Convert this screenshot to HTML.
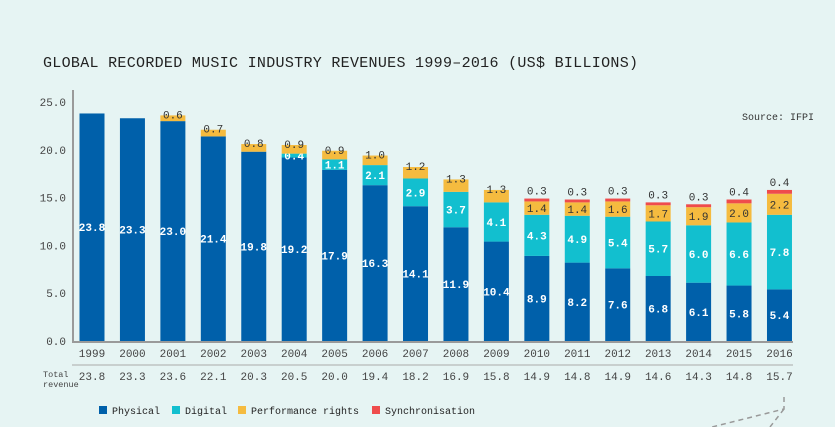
<!DOCTYPE html>
<html><head><meta charset="utf-8"><style>
body{margin:0;background:#e6f4f3;}
svg{display:block;font-family:"Liberation Mono",monospace;}
</style></head><body>
<svg width="835" height="427" viewBox="0 0 835 427" xmlns="http://www.w3.org/2000/svg">
<rect width="835" height="427" fill="#e6f4f3"/>
<text x="43" y="67" font-size="15" fill="#222" letter-spacing="0.3">GLOBAL RECORDED MUSIC INDUSTRY REVENUES 1999–2016 (US$ BILLIONS)</text>
<text x="814" y="120" font-size="10" fill="#333" text-anchor="end">Source: IFPI</text>
<g id="plot"></g>
<line x1="73" y1="90" x2="73" y2="342" stroke="#9a9a9a" stroke-width="2"/>
<line x1="72" y1="342" x2="793" y2="342" stroke="#9a9a9a" stroke-width="2"/>
<line x1="72" y1="365" x2="793" y2="365" stroke="#aaa" stroke-width="1"/>
<text x="43" y="377" font-size="8.5" fill="#444">Total</text>
<text x="43" y="387" font-size="8.5" fill="#444">revenue</text>
<g font-size="10" fill="#222">
<rect x="99" y="406" width="8" height="8" fill="#0060aa"/><text x="112" y="414">Physical</text>
<rect x="172" y="406" width="8" height="8" fill="#12bfcf"/><text x="185" y="414">Digital</text>
<rect x="238" y="406" width="8" height="8" fill="#f5bb3f"/><text x="251" y="414">Performance rights</text>
<rect x="372" y="406" width="8" height="8" fill="#ef4c4c"/><text x="385" y="414">Synchronisation</text>
</g>
<path d="M784 397 L784 409 L712 427 M784 409 L770 427" stroke="#999" stroke-width="1.5" stroke-dasharray="5,4" fill="none"/>
</svg>
<script>
const years=["1999","2000","2001","2002","2003","2004","2005","2006","2007","2008","2009","2010","2011","2012","2013","2014","2015","2016"];
const physical=[23.8,23.3,23.0,21.4,19.8,19.2,17.9,16.3,14.1,11.9,10.4,8.9,8.2,7.6,6.8,6.1,5.8,5.4];
const digital=[0,0,0,0,0,0.4,1.1,2.1,2.9,3.7,4.1,4.3,4.9,5.4,5.7,6.0,6.6,7.8];
const performance=[0,0,0.6,0.7,0.8,0.9,0.9,1.0,1.2,1.3,1.3,1.4,1.4,1.6,1.7,1.9,2.0,2.2];
const sync=[0,0,0,0,0,0,0,0,0,0,0,0.3,0.3,0.3,0.3,0.3,0.4,0.4];
const totals=["23.8","23.3","23.6","22.1","20.3","20.5","20.0","19.4","18.2","16.9","15.8","14.9","14.8","14.9","14.6","14.3","14.8","15.7"];
const yTicks=[0,5,10,15,20,25];
const NS="http://www.w3.org/2000/svg";
const g=document.getElementById('plot');
const y=v=>341-v*9.56;
const xc=i=>92+i*40.44;
const BW=25;
function mk(tag,attrs){const e=document.createElementNS(NS,tag);for(const k in attrs)e.setAttribute(k,attrs[k]);g.appendChild(e);return e;}
yTicks.forEach(t=>{
 const e=mk('text',{x:66,y:y(t)+4,'font-size':11,fill:'#444','text-anchor':'end'});e.textContent=t.toFixed(1);
 
 
});
const series=[[physical,'#0060aa','physical'],[digital,'#12bfcf','digital'],[performance,'#f5bb3f','performance'],[sync,'#ef4c4c','sync']];
years.forEach((yr,i)=>{
 let base=0;
 series.forEach(([arr,col,nm])=>{
  const v=arr[i];if(!v)return;
  const r=mk('rect',{x:xc(i)-BW/2,y:y(base+v),width:BW,height:y(base)-y(base+v),fill:col});
  
  
  let ly, fill='#fff', fw='bold';
  if(nm==='physical'||nm==='digital'){ly=(y(base)+y(base+v))/2+4;}
  else if(nm==='performance'){fill='#333';fw='normal';ly= i>=11 ? (y(base)+y(base+v))/2+4 : y(base+v)+3;}
  else {fill='#333';fw='normal';ly=y(base+v)-4;}
  const t=mk('text',{x:xc(i),y:ly,'font-size':11,fill:fill,'font-weight':fw,'text-anchor':'middle'});
  t.textContent=v.toFixed(1);
  
  
  base+=v;
 });
 const yl=mk('text',{x:xc(i),y:357,'font-size':11,fill:'#444','text-anchor':'middle'});yl.textContent=yr;
 
 
 const tl=mk('text',{x:xc(i),y:380,'font-size':11,fill:'#444','text-anchor':'middle'});tl.textContent=totals[i];
 
 
});
</script>
</body></html>
